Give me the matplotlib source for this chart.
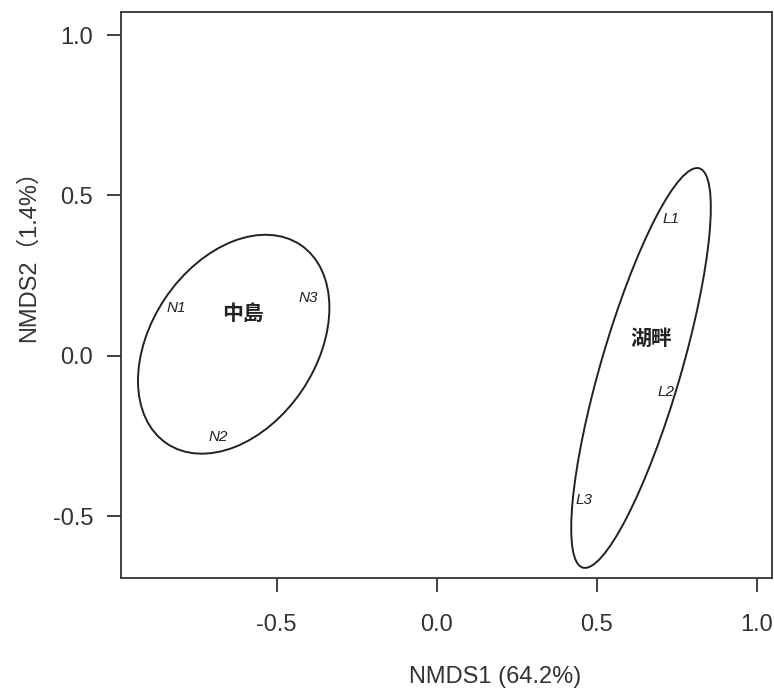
import matplotlib
matplotlib.use("Agg")
import matplotlib.pyplot as plt
from matplotlib.patches import Ellipse

# group ellipses: centre x, centre y, full major, full minor, angle (deg)
groups = ["中島", "湖畔"]
ell_cx = [-0.634, 0.638]
ell_cy = [0.036, -0.038]
ell_w = [0.747, 1.297]
ell_h = [0.515, 0.250]
ell_ang = [55.9, 73.7]
group_x = [-0.606, 0.669]
group_y = [0.131, 0.056]

# sample labels
samples = ["N1", "N2", "N3", "L1", "L2", "L3"]
sample_x = [-0.812, -0.681, -0.400, 0.732, 0.716, 0.460]
sample_y = [0.150, -0.253, 0.181, 0.427, -0.112, -0.449]

xticks = [-0.5, 0.0, 0.5, 1.0]
yticks = [-0.5, 0.0, 0.5, 1.0]

FONT = ["Liberation Sans", "Noto Sans CJK SC", "DejaVu Sans"]
plt.rcParams["font.family"] = FONT
dark = "#333333"

fig = plt.figure(figsize=(7.74, 6.90), dpi=100)
ax = fig.add_axes([0.1563, 0.1623, 0.8411, 0.8203])

for cx, cy, w, h, a in zip(ell_cx, ell_cy, ell_w, ell_h, ell_ang):
    ax.add_patch(Ellipse((cx, cy), w, h, angle=a, fill=False,
                         edgecolor="#222222", linewidth=1.4))

for name, x, y in zip(groups, group_x, group_y):
    ax.text(x, y, name, ha="center", va="center", fontsize=15,
            fontweight="bold", color="#222222",
            family=["Noto Sans CJK JP", "DejaVu Sans"])

for name, x, y in zip(samples, sample_x, sample_y):
    ax.text(x, y, name, ha="center", va="center", fontsize=11,
            style="italic", color="#222222")

ax.set_xlim(-0.986, 1.047)
ax.set_ylim(-0.693, 1.072)
ax.set_xticks(xticks)
ax.set_yticks(yticks)
ax.set_xticklabels([f"{v:.1f}" for v in xticks])
ax.set_yticklabels([f"{v:.1f}" for v in yticks])

for s in ax.spines.values():
    s.set_color(dark)
    s.set_linewidth(1.3)
ax.tick_params(axis="both", direction="out", length=10, width=1.3,
               colors=dark, labelsize=17)
ax.tick_params(axis="x", pad=16)
ax.tick_params(axis="y", pad=10)

ax.set_xlabel("NMDS1 (64.2%)", fontsize=17, color=dark)
ax.set_ylabel("NMDS2（1.4%）", fontsize=17, color=dark,
              family=["Liberation Sans", "Noto Sans CJK SC"])
ax.xaxis.set_label_coords(0.575, -0.155)
ax.yaxis.set_label_coords(-0.125, 0.58)

fig.savefig("out.png", dpi=100)
